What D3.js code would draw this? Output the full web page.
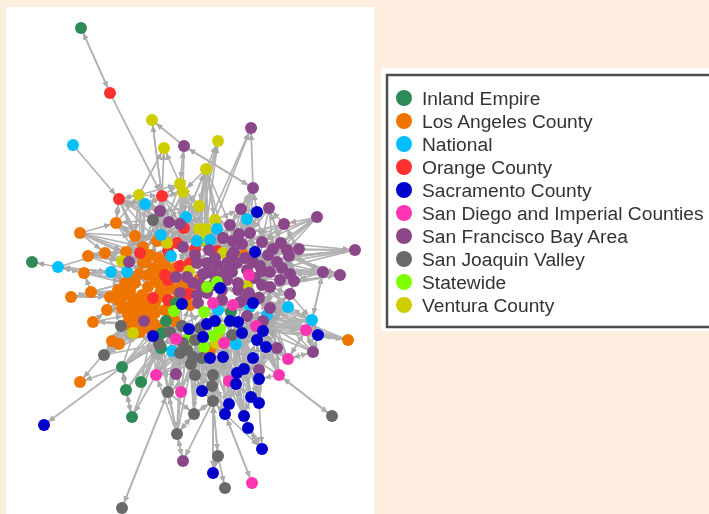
<!DOCTYPE html>
<html>
<head>
<meta charset="utf-8">
<script src="https://cdn.jsdelivr.net/npm/d3@7"></script>
<style>
  html, body { margin: 0; padding: 0; background: #fdeee0; overflow: hidden; }
  svg { display: block; filter: blur(0.7px); }
</style>
</head>
<body>
<div id="GraphHolder"></div>
<script>
// region names and colours, in legend order
var regions = ["Inland Empire", "Los Angeles County", "National", "Orange County", "Sacramento County",
    "San Diego and Imperial Counties", "San Francisco Bay Area", "San Joaquin Valley", "Statewide", "Ventura County"];
var regionCodes = ["I", "L", "N", "O", "S", "D", "F", "J", "W", "V"];
var regionColors = ["#2e8b57", "#ee7600", "#00bfff", "#ff3030", "#0000cd", "#ff34b3", "#8b4789", "#696969", "#7fff00", "#cdcd00"];

// layout position of every organisation, one list per region
var inlandEmpire = [[81,28],[32,262],[122,367],[141,382],[126,390],[132,417],[176,303],[166,321],[162,333],[161,348],[231,312]];
var losAngeles = [[116,223],[80,233],[135,236],[157,241],[88,256],[105,253],[126,252],[143,247],[84,273],[71,297],[91,292],[110,297],[107,310],[93,322],[112,341],[119,344],[80,382],[348,340],[244,255],[199,279],[210,351],
    [139,274],[125,283],[135,283],[148,287],[157,282],[143,263],[153,268],[163,267],[170,287],[182,286],[190,287],[122,297],[132,297],[142,295],[125,307],[133,303],[128,315],[137,315],[145,312],[155,303],[155,313],[130,323],[137,325],[153,323],[175,321],[190,305],[150,255],[145,262],[155,278],[165,262],[130,290],[160,293],[148,300],[152,330],[135,330],[176,290],[165,310],
    [142,303],[122,308],[118,300],[160,285],[172,275],[147,318],[140,332],[130,280],[148,275],[158,258],[170,305],[160,328],[127,324],[150,308],
    [118,290],[140,318],[122,290],[165,297],[178,300],[170,318],[145,328],[135,310],[160,270],[175,268]];
var national = [[73,145],[145,204],[186,217],[247,219],[217,229],[161,235],[197,241],[210,240],[171,256],[58,267],[111,272],[127,272],[288,307],[312,320],[267,315],[250,307],[218,310],[236,344],[172,351]];
var orangeCounty = [[110,93],[119,199],[162,196],[184,228],[177,243],[168,251],[140,253],[195,249],[217,251],[165,275],[168,280],[180,266],[190,263],[153,298],[168,300],[188,294]];
var sacramento = [[257,212],[255,252],[220,288],[253,303],[215,321],[230,321],[238,322],[242,333],[207,324],[203,337],[189,329],[153,336],[182,304],[263,331],[257,340],[266,347],[253,358],[210,358],[223,357],[237,373],[244,369],[259,379],[236,384],[202,391],[251,397],[259,403],[229,404],[225,414],[244,416],[248,428],[262,449],[213,473],[44,425],[318,335]];
var sanDiego = [[249,275],[233,305],[213,303],[256,326],[306,330],[288,359],[279,375],[229,381],[252,483],[156,375],[181,392],[176,339],[224,343]];
var bayArea = [[251,128],[184,146],[253,188],[241,209],[269,208],[160,211],[317,217],[284,224],[169,222],[180,224],[230,225],[250,233],[239,234],[223,238],[233,241],[242,244],[262,242],[281,243],[299,249],[355,250],[273,249],[287,250],[289,256],[183,247],[209,250],[234,252],[232,255],[277,262],[282,268],[290,274],[294,281],[323,272],[340,275],[253,262],[260,266],[262,271],[255,278],[270,287],[290,294],[270,308],[259,298],[249,293],[245,299],[238,290],[238,283],[227,280],[222,300],[247,316],[263,321],[129,262],[144,321],[180,293],[277,348],[313,352],[259,370],[176,374],[183,461],
    [197,263],[207,263],[217,265],[227,263],[237,263],[203,274],[215,276],[225,272],[197,295],[207,293],[198,303],[215,258],[195,255],[213,285],[176,277],[187,277],
    [247,270],[245,258],[270,272],[280,280],[268,255],[200,285],[232,272],[222,290],[240,302],[208,272],[262,285],[193,283]];
var joaquin = [[153,220],[121,326],[104,355],[168,392],[122,508],[195,375],[213,375],[212,386],[213,401],[194,414],[177,434],[218,456],[225,488],[332,416],[232,335],[202,358],[193,357],[191,364],[180,353],[187,350],[195,340],[183,343],[182,326],[170,332],[159,344],[200,328]];
var statewide = [[217,282],[207,287],[174,311],[204,312],[220,329],[188,339],[204,347],[213,336]];
var ventura = [[152,120],[164,148],[218,141],[206,169],[180,184],[183,192],[139,195],[199,206],[215,220],[199,229],[206,229],[167,243],[204,240],[223,253],[122,261],[189,271],[133,333],[247,285],[217,335],[216,343]];

// who links to whom: "source: target target ..."
var outerLinks = [
    "I0: O0", "O0: I0 O2", "N0: O1", "V0: O2", "O2: V0 V1 V4 V5 V9 J0 N1 F5 F9 F8 L3", "F1: V0 F2 V4 V5",
    "V6: V1 O1 O2 V4 N1 F5 J0 L2", "V4: V1 F1 V7 N2 V9 O3", "V3: V2 V5 V7 V9 V10 N2 V8 F10",
    "V7: V2 V3 F5 N2 O3 F9", "V9: V3 V2 F9 F23 F13", "V10: V3 V2 F0 V8 F13", "V8: V3 F0 F3 V10 F10 F13", "N2: V3 V5 F8 V9 O4",
    "V5: V7 N2 V9 V10 F8 F9 O3 N1", "F2: F1 F0 F3 F10 F11 F12", "F3: F2 F11 F10 F13", "S0: F3 F2 F11 F16", "F4: F11 F16 F17 F20 F15",
    "O1: V6 F5 J0 L2 F8 O3 N1 L3", "N1: J0 V6 L3 F8 O5", "J0: L0 L3 F8 O1 N5", "F5: N1 F8 F9 N5 L3 O5", "L0: O1 L2 L7 V6 L3", "L1: L0 L2 L6 L5",
    "L4: L5 L6", "L5: L7 L4 L6 L26", "L2: L0 L3 L7 L6 N5", "L3: L47 O5 N5 V11 O4 F8", "L6: L7 O6 L2 F49", "L7: L47 O6 L3 L26",
    "N9: I1 L8 N10 L21 L5", "L8: N9 N10 L22", "L9: L10 L11 L32", "L10: L11 L22 L8", "L11: L32 L10 L22", "L12: L35 L11", "L13: L12 L37 L42", "L14: L42 L15 L55", "L15: L14 L43",
    "F57: F58 F13 O7 F24 F69", "N10: L22 N9 L8 N11", "N11: L21 L48 F49", "F49: L26 V14 N11", "V14: L6 L22",
    "L42: L16 L13 L14", "I2: L16 S32 I4 L55 J24", "J2: J1 L15 L55 J24", "J1: L37 L42 J2", "I3: L54 I9", "I4: I5 I2", "D9: I5 J24 I9 J16 J18", "I5: I4",
    "J3: J4 J10 J9 F55 J18 J24", "J4: J3", "J10: J3 F56 J9", "D10: J10 F55 J16", "J8: F56 J11 S31 J9 J7 S23 J17", "J11: J12 S31 J8", "J9: J8 J10 J5 J17", "J6: J8 J7 J15 S17", "J7: J8 J5 S23 J6", "J5: J3 J17 J7 J6 J9 J16", "S23: J7 J5 S17",
    "F55: J16 F23 J18 D9", "S27: D8 S30 S26 S18 J8", "S28: S29 S30 S24 S22 S18", "S29: S30 S28", "S25: S30 S24 S21 S16", "S26: S22 S27 J7 S17", "S24: S25 S21 S22 S20", "S22: S19 S18 D7 S17", "D7: S17 S19 S18", "S19: S20 S18 N17 S16", "S20: S21 S14 S16", "S21: F54 S15 S16", "F54: S15 F52 S14", "D6: J13 S15 S16 F52 S21", "D5: D4 F52 F53 S15", "F53: D5 D4 N13 S33", "D4: S33 N13 F53 D5 S13 F39", "S33: L17 D4 N13", "L17: S33 F39 S13", "N13: F31 D4 N12 S13 S33", "F31: N13 F32 F30 F27", "F32: F31 F30 F22", "N12: N13 F38 F39 F48 S13 F37", "F6: F17 F21 F7", "F17: F6 F19 F4 F21", "F22: F19 F31 F32 F18 F29", "F21: F19 F31 F18 F16", "F18: F17 F7 F19 F27", "F7: F11 F20 F16 F4", "F29: F31 F32 F30", "F30: F32 F38", "F38: F30 N12 F37 N13",
    "J13: D6", "J14: F47 J25 S7 S14", "D8: S27", "S30: S29", "S31: J8", "F56: J10"
];
var coreLinks = [
    "F12: F13 F14 F15 F11 F25 O8 V13", "F13: F24 F26 O7 V12 N7", "F14: F26 F25 F33 V13", "F15: F25 F16 F33 F34 S1", "F16: F34 F27 S1", "F20: F27 F28 F16 F17", "F24: O7 F68 F59", "O7: V12 N6 O12 F69 O3", "O3: O7 N6 F23 V9", "O4: F23 O5 N6", "F23: O12 O11 F69 F9", "O5: L50 L47 O4 N8", "N8: L50 O11 O5", "V11: O4 N8 L28 N5", "L47: L48 L27 L26", "O6: L26 L48 L21",
    "L26: L21 L27 L48 L22", "L27: L49 L28 L25 L21", "L28: O9 L29 O11", "O9: O10 L29 L25", "O10: L29 L30 F71", "L21: L23 L22 L24", "L22: L51 L23 L32", "L23: L24 L33 L51", "L24: L34 L25 L53", "L25: L52 L29 O10", "L29: L56 L52 L30", "L30: L31 L56 F72", "L31: O15 F51 L19", "L19: F66 F63 F58 F72", "F71: O10 O11 L30", "F72: V15 O12 F57 L31",
    "L32: L33 L35", "L33: L34 L36", "L34: L53 L36 L39", "L35: L36 L37", "L36: L38 L39", "L37: L38 L42", "L38: L39 L43", "L39: L41 L44", "L40: L41 O13 L57", "L41: L44 L57", "L43: L44 L55", "L44: L54 I8 F50", "L57: W2 O14 L45", "L45: I7 W2 I6", "O13: L53 L52 O14", "O14: L52 I6 F51", "F51: O15 L46 S12", "L46: O15 S12 F67", "S12: I6 F51 L45",
    "F65: F66 F67 F51", "F66: F63 F69 S2", "F67: W3 F65", "W3: S8 F46 D2", "D2: S4 F46 W3", "F46: D1 N16 I10", "D1: F42 F46 I10", "N16: S4 I10", "I10: S5 N15", "S4: S5 S8 W7", "S5: S6 J14", "S6: S7 F47", "S7: S14 D3", "S8: S9 J25 W7", "S9: W6 J20 S10", "S10: J25 J22 W5", "W5: J21 J20 J19", "J22: J23 I7 J25", "J23: I8 J21 D11", "D11: J21 I8", "I8: S11 J24 I9", "S11: L54 J24", "J24: I9 N18", "I9: N18 J18", "N18: J18", "J18: J19 J16", "J19: J20 J16", "J20: S9 W6", "J16: J15 J17", "J15: S17 W6", "S17: S18 D12", "S18: J14 D12", "D12: V19 S9", "V19: V18 W6", "V18: W4 W7", "W4: S5 V18 S6", "W7: S9 W4", "W6: S17 J15",
    "F47: F48 N15 S3", "F48: D3 N14 S13", "N14: F39 F48", "N15: F42 S3", "S3: F40 F41", "F39: F37 F40 N12 F48", "F40: F37 F41", "F41: F36 F43", "F42: F43 F41", "F43: F44 S2 F70", "F44: F45 V17", "V17: D0 F36 F43", "D0: F36 F33", "F36: F35 F37", "F35: F34 F37 F28", "F34: F33 F27", "F33: F61 F25", "F25: F61 F60", "F60: F64 F59", "F61: F64 F60", "F59: F63 F58", "F58: F57 F62", "F62: F63 V15", "F63: F64 F70 W0", "F64: F45 W0", "F70: W1 F66", "W0: S2 W1", "W1: F66", "S2: F45 W0",
    "F28: F29 F27", "F27: F29", "F37: F38 F30",
    "F69: O12 V12", "V12: N7 F24", "O12: F57 V15", "V15: F71 L31",
    "L3: F69 O7 F9 F23", "L52: F51 S12 J22", "L53: L52 L44", "L54: J24 J23 J1 J2", "L55: J1 J2 L14", "I6: W2 I7", "I7: I8 W2",
    "J25: W3 S9 W7", "F50: L54 I7 L44", "V16: L55 J1 L43",
    "F45: J25 S8 F46 W1", "F59: W0 O8 N4", "S1: F14 F42 N3", "N4: F9 F24 V8", "O8: F24 F68 F13", "F68: V13 F24", "V13: O8 F26",
    "L25: O7 F57 F69", "L34: L3 O5 O11", "L40: O14 J22", "J22: F51 L46 W3", "J21: I8 L54 J23", "J20: W3 S8 L46", "J17: D9 S9 S18", "J15: S9 J14",
    "D11: L45 O14 L54", "D12: S7 J14 S14", "J14: D2 F46 F42", "S16: J14 S7 N17", "N17: S14 D12", "S14: F47 J14", "S13: F48 F39",
    "F52: S15 D3 S13", "F48: F37 F38", "D3: F47 S6", "S15: S14 S13", "N12: F40 F36", "N13: F39 F47",
    "J3: J21 J22 D11", "J9: S9 J20 W5", "J10: D9 J16", "J8: S18 D12 J14", "S27: S9 J15 D12", "S28: S9 J14 S16", "S29: S18 S22", "S25: S7 S6 S15", "S24: J14 S7 D12",
    "D6: F47 F42 S14 F39", "D5: F39 F40 S13", "D4: F37 N14 S6 F47", "F31: F37 F28 F16", "F32: F37 F29", "F19: F22 F28", "F6: F16 F34",
    "D10: J23 S9", "F55: I7 J22", "D9: L54 J22", "J2: L42 L44", "I2: L54 I7",
    "V10: F25 F13 V12", "V9: O7 N6", "V8: F25 F12 F14", "V7: F23 V4", "N3: F12 F15 F11", "F10: F13 F12 F14",
    "F9: O3 F8 O4", "F8: O4 O5 V11",
    "J5: S9 J20 W6 J25 S10", "J6: S9 W6 D12 S7 W7", "J7: S9 W6 J20 J14 S18", "J8: S9 W6 J20", "S23: J20 S9 W6 J25", "D10: J16 J19 W5", "F55: J19 S10 J20", "D9: J23 J21 S10", "J3: J19 S10 I8",
    "S19: J14 S9 W4 S7", "S20: J14 S7 S6 W4", "S22: W7 S9 J14 D12", "S26: S9 D12 J14 S7", "S27: S18 J14", "S28: S7 J14", "S24: S7 N17 S6", "S25: S13 S14", "S21: S13 S7 S6", "F54: S7 S13 J14", "D7: S9 W6 J14", "S16: S6 S5", "S15: S6 F47", "S14: S5 S6",
    "F52: F39 S6 F47", "D6: S13 D3 F48", "D5: S6 S13 N14", "F53: F39 F48 S13", "D4: F39 F40 F48 D3", "S33: S13 F48 F39 N14", "L17: F48 D3 N14 F47", "N13: F48 D3 F40", "N12: F47 F42 S3", "F38: F39 F40 F41", "F30: F37 F35 F36", "F29: F35 F34 F36", "F28: F33 F34", "F22: F34 F16 F35", "F21: F34 F15 F33", "F18: F20 F16 F33", "F17: F16 F33", "F32: F35 F34", "F31: F34 F35 F36", "F19: F34 F33", "F7: F15 F12", "F6: F15 F33", "F4: F12 F14", "S0: F14 F12", "F2: F13 F14 F15", "F3: F14 F15", "N3: F14 F25",
    "V3: V12 V9 F24 F13", "V7: O7 F23 V12 V11", "N2: O7 N6 F23", "V8: N4 F24 V13 N7", "F10: F25 F24", "V9: F24 V12 N7", "V10: V12 N7 O7", "F8: L3 N5 O5 V11", "F9: O5 F23 O4 V11", "J0: O5 O6 L7", "N5: L7 O5 V11", "N1: L7 N5 O6", "V6: L7 O6 L2", "O1: L7 O6 L0", "O2: V11 O5 N5", "V4: F9 N2 N5", "V5: O3 O4 N5",
    "L0: L7 L26", "L1: L7 L26 O6", "L4: L26 L21 F49 V14", "L5: O6 V14 L22", "L6: L26 L48 V14", "L8: L21 L22 L65", "L9: L22 L32 L51", "L10: L32 L51", "L11: L35 L51", "L12: L37 L32", "L13: L42 L43", "L14: L43 L37", "L15: L55 L42", "J2: L55 L54", "J1: L43 L55", "I2: J24 I8 J23", "I3: J24 I8", "I4: I9 J24", "I5: J24", "J10: J24 J18"
];

var drawOrder = ["L", "O", "V", "N", "F", "I", "W", "J", "D", "S"];

var regionPoints = {I: inlandEmpire, L: losAngeles, N: national, O: orangeCounty, S: sacramento,
    D: sanDiego, F: bayArea, J: joaquin, W: statewide, V: ventura};

var width = 709, height = 514, nodeRadius = 6;

var x = d3.scaleLinear().domain([0, 709]).range([0, width]);
var y = d3.scaleLinear().domain([0, 514]).range([0, height]);
var color = d3.scaleOrdinal().domain(regionCodes).range(regionColors);

// build nodes and edges from the lists
var nodes = [], byId = {};
drawOrder.forEach(function(code) {
    regionPoints[code].forEach(function(p, i) {
        var n = {id: code + i, code: code, x: p[0], y: p[1]};
        nodes.push(n);
        byId[n.id] = n;
    });
});

var edges = [];
outerLinks.concat(coreLinks).forEach(function(line) {
    var parts = line.split(":");
    parts[1].trim().split(/\s+/).forEach(function(t) {
        if (byId[parts[0]] && byId[t]) edges.push({source: byId[parts[0]], target: byId[t]});
    });
});

var svg = d3.select("#GraphHolder").append("svg")
    .attr("width", width)
    .attr("height", height);

svg.append("defs").append("marker")
    .attr("id", "arrow")
    .attr("markerUnits", "userSpaceOnUse")
    .attr("viewBox", "0 -4 8 8")
    .attr("refX", 14)
    .attr("markerWidth", 7)
    .attr("markerHeight", 7)
    .attr("orient", "auto")
    .append("path")
    .attr("d", "M0,-3.5L8,0L0,3.5Z")
    .attr("fill", "#a9a9a9");

// white panel behind the network
svg.append("rect")
    .attr("x", 6).attr("y", 7)
    .attr("width", 368).attr("height", 507)
    .attr("fill", "white");

svg.append("g").selectAll("line")
    .data(edges)
    .enter().append("line")
    .attr("x1", function(d) { return x(d.source.x); })
    .attr("y1", function(d) { return y(d.source.y); })
    .attr("x2", function(d) { return x(d.target.x); })
    .attr("y2", function(d) { return y(d.target.y); })
    .attr("stroke", "#b2b2b2")
    .attr("stroke-width", 1.7)
    .attr("marker-end", "url(#arrow)");

svg.append("g").selectAll("circle")
    .data(nodes)
    .enter().append("circle")
    .attr("cx", function(d) { return x(d.x); })
    .attr("cy", function(d) { return y(d.y); })
    .attr("r", nodeRadius)
    .attr("fill", function(d) { return color(d.code); });

// legend
var legend = svg.append("g");
legend.append("rect")
    .attr("x", 381).attr("y", 68)
    .attr("width", 328).attr("height", 263)
    .attr("fill", "white");
legend.append("rect")
    .attr("x", 387).attr("y", 75)
    .attr("width", 340).attr("height", 252)
    .attr("fill", "white")
    .attr("stroke", "#4d4d4d")
    .attr("stroke-width", 2.5);

var rowY = d3.scalePoint().domain(regions).range([98, 305]);

legend.selectAll("circle")
    .data(regions)
    .enter().append("circle")
    .attr("cx", 404)
    .attr("cy", function(d) { return rowY(d); })
    .attr("r", 8)
    .attr("fill", function(d, i) { return regionColors[i]; });

legend.selectAll("text")
    .data(regions)
    .enter().append("text")
    .attr("x", 422)
    .attr("y", function(d) { return rowY(d); })
    .attr("dy", "0.35em")
    .attr("font-family", "'Liberation Sans', Arial, sans-serif")
    .attr("font-size", 19.2)
    .attr("fill", "#333")
    .text(function(d) { return d; });
</script>
</body>
</html>
